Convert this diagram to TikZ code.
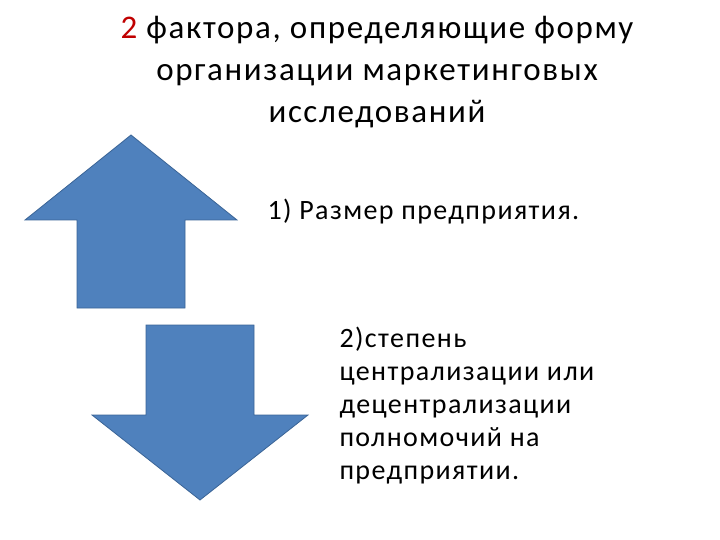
\documentclass[tikz,border=0pt]{standalone}
\usepackage{fontspec}
\setmainfont{Carlito}[LetterSpace=5]
\definecolor{arrowblue}{HTML}{4F81BD}
\definecolor{arrowedge}{HTML}{3A6496}
\definecolor{darkred}{HTML}{C00000}
\begin{document}
\begin{tikzpicture}[x=1pt,y=-1pt,
  arr/.style={fill=arrowblue,draw=arrowedge,line width=0.8pt},
  title/.style={font=\fontsize{33}{42}\selectfont,align=center},
  body/.style={font=\fontsize{28}{33}\selectfont,anchor=west,align=left}]
\useasboundingbox (0,0) rectangle (720,540);
\draw[arr] (131,135) -- (237,220) -- (185,220) -- (185,308) -- (77,308) -- (77,220) -- (25,220) -- cycle;
\draw[arr] (146,325) -- (254,325) -- (254,415) -- (308,415) -- (200,500) -- (92,415) -- (146,415) -- cycle;
\node[title] (t) at (377,72) {{\color{darkred}2} фактора, определяющие форму\\организации маркетинговых\\исследований};
\node[body] (a) at (264,212) {1) Размер предприятия.};
\node[body] (b) at (336,406) {2)степень\\централизации или\\децентрализации\\полномочий на\\предприятии.};
\end{tikzpicture}
\end{document}
